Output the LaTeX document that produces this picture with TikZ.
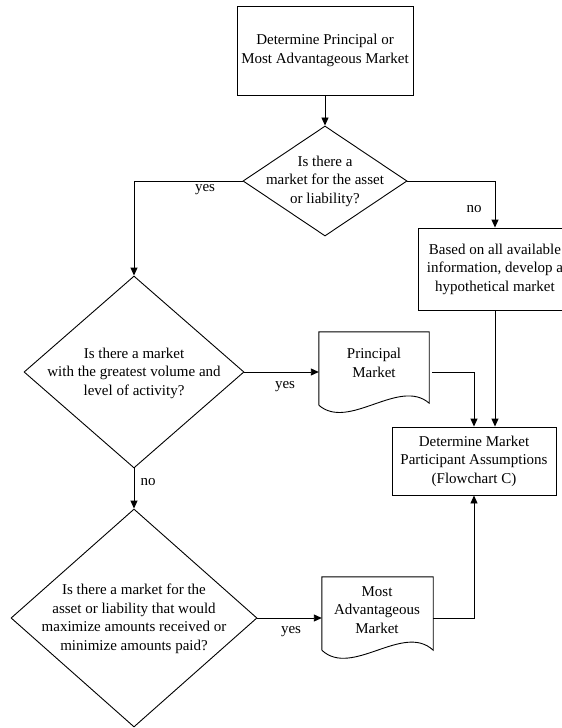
\documentclass[tikz,border=0pt]{standalone}
\usepackage{fontspec}
\setmainfont{Liberation Serif}
\usetikzlibrary{shapes.geometric,arrows.meta,calc}
\newcommand\diagfont{\fontsize{15}{18.5}\selectfont}
\begin{document}
\begin{tikzpicture}[x=1pt,y=-1pt,
  outline/.style={line width=0.9pt},
  box/.style={draw, outline, rectangle, align=center, inner sep=0pt, font=\diagfont},
  dia/.style={draw, outline, diamond, inner sep=0pt},
  doc/.style={rectangle, inner sep=0pt},
  txt/.style={align=center, inner sep=0pt, font=\diagfont},
  lbl/.style={inner sep=0pt, font=\diagfont},
  flow/.style={outline, -{Triangle[length=8pt,width=7pt]}}]
\useasboundingbox (0,0) rectangle (562,728);
\clip (0,0) rectangle (562,728);

% process boxes and decisions
\node[box, minimum width=176, minimum height=89] (top) at (325,50.5)
  {Determine Principal or\\Most Advantageous Market};
\node[dia, minimum width=164, minimum height=110] (q1) at (325,181) {};
\node[txt] at (q1) {Is there a\\market for the asset\\or liability?};
\node[box, minimum width=154, minimum height=82] (hyp) at (495,269)
  {Based on all available\\information, develop a\\hypothetical market};
\node[dia, minimum width=220, minimum height=192] (q2) at (134,372) {};
\node[txt] at (134,373) {Is there a market\\with the greatest volume and\\level of activity?};
\node[box, minimum width=164, minimum height=68] (mpa) at (474,461)
  {Determine Market\\Participant Assumptions\\(Flowchart C)};
\node[dia, minimum width=246, minimum height=218] (q3) at (134,618) {};
\node[txt] at (134,619) {Is there a market for the\\asset or liability that would\\maximize amounts received or\\minimize amounts paid?};

% document shapes
\node[doc, minimum width=110, minimum height=73] (pm) at (374,368.5) {};
\node[txt] at (374,363) {Principal\\Market};
\draw[outline] ($(pm.south west)+(0,0)$) -- (pm.north west) -- (pm.north east)
  -- ($(pm.south east)+(0,-2)$) .. controls +(-30,-26) and +(30,26) .. (pm.south west);
\node[doc, minimum width=111, minimum height=73] (ma) at (377.5,613.5) {};
\node[txt] at (377,610) {Most\\Advantageous\\Market};
\draw[outline] (ma.south west) -- (ma.north west) -- (ma.north east)
  -- (ma.south east) .. controls +(-30,-28) and +(30,28) .. (ma.south west);

% connectors
\draw[flow] (top) -- (q1);
\draw[flow] (q1.west) -| (q2.north);
\draw[flow] (q1.east) -| (hyp.north);
\draw[flow] (hyp.south) -- (hyp.south |- mpa.north);
\draw[flow] (q2.east) -- (q2.east -| pm.west);
\draw[flow] ($(pm.east |- q2.east)+(3,0)$) -| (mpa.north);
\draw[flow] (q2.south) -- (q3.north);
\draw[flow] (q3.east) -- (q3.east -| ma.west);
\draw[flow] (ma.east |- q3.east) -| (mpa.south);

% branch labels
\node[lbl] at (205,190) {yes};
\node[lbl] at (474,209) {no};
\node[lbl] at (285,387) {yes};
\node[lbl] at (148,482) {no};
\node[lbl] at (291,632) {yes};
\end{tikzpicture}
\end{document}
